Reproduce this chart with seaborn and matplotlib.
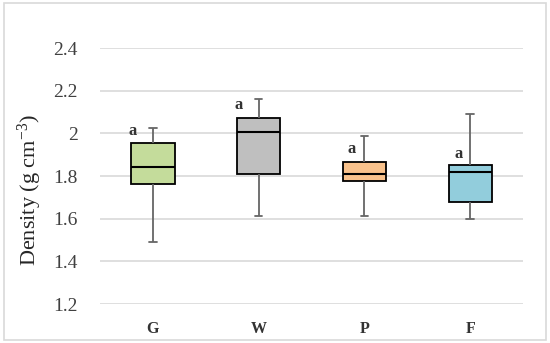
import numpy as np
import pandas as pd
import matplotlib
matplotlib.use("Agg")
import matplotlib.pyplot as plt
import seaborn as sns
from matplotlib.patches import Rectangle

categories = ["G", "W", "P", "F"]
minimum = [1.489, 1.612, 1.612, 1.598]
q1 = [1.761, 1.811, 1.775, 1.680]
median = [1.844, 2.005, 1.809, 1.817]
q3 = [1.953, 2.073, 1.864, 1.852]
maximum = [2.027, 2.160, 1.986, 2.089]
colors = ["#C4DC9B", "#BFBFBF", "#F9C28C", "#92CDDC"]
sig_letters = ["a", "a", "a", "a"]
letter_y = [2.011, 2.135, 1.927, 1.903]
letter_dx = [-0.19, -0.19, -0.12, -0.11]
yticks = [1.2, 1.4, 1.6, 1.8, 2.0, 2.2, 2.4]
ytick_labels = ["1.2", "1.4", "1.6", "1.8", "2", "2.2", "2.4"]

rows = []
for i, c in enumerate(categories):
    for v in (minimum[i], q1[i], median[i], q3[i], maximum[i]):
        rows.append({"group": c, "density": v})
df = pd.DataFrame(rows)

sns.set_style("white")
plt.rcParams["font.family"] = ["Liberation Serif", "DejaVu Serif"]
plt.rcParams["mathtext.fontset"] = "custom"
plt.rcParams["mathtext.rm"] = "Liberation Serif"
plt.rcParams["mathtext.it"] = "Liberation Serif:italic"

fig = plt.figure(figsize=(5.5, 3.43), dpi=100)
ax = fig.add_axes([0.182, 0.1137, 0.769, 0.7463])

sns.boxplot(data=df, x="group", y="density", hue="group", order=categories,
            palette=colors, saturation=1, legend=False, whis=(0, 100), width=0.41,
            linewidth=1.3, linecolor="black", ax=ax, capwidths=0.07,
            whiskerprops=dict(color="#666666", linewidth=1.3),
            capprops=dict(color="#666666", linewidth=1.3),
            medianprops=dict(color="black", linewidth=1.5),
            boxprops=dict(edgecolor="black", linewidth=1.3), zorder=3)

for i, c in enumerate(categories):
    ax.text(i + letter_dx[i], letter_y[i], sig_letters[i], ha="center", va="center",
            fontsize=12, fontweight="bold", color="#333333", zorder=4)

ax.set_ylim(1.2, 2.4)
ax.set_xlim(-0.5, 3.5)
ax.set_yticks(yticks)
ax.set_yticklabels(ytick_labels, fontsize=14, color="#404040")
ax.tick_params(axis="y", length=0, pad=16)
ax.tick_params(axis="x", length=0, pad=12, labelsize=11.5, labelcolor="#333333")
for lab in ax.get_xticklabels():
    lab.set_fontweight("bold")
ax.yaxis.grid(True, color="#D9D9D9", linewidth=1.2, zorder=0)
ax.set_axisbelow(True)
for s in ax.spines.values():
    s.set_visible(False)
ax.set_xlabel("")
ax.set_ylabel("Density (g cm$^{\\mathrm{-3}}$)", fontsize=16)
ax.yaxis.set_label_coords(-0.132, 0.445)

fig.patches.append(Rectangle((4 / 550, 3 / 343), 542 / 550, 337 / 343,
                             transform=fig.transFigure, fill=False,
                             edgecolor="#D9D9D9", linewidth=1.2))

fig.savefig("out.png", dpi=100)
